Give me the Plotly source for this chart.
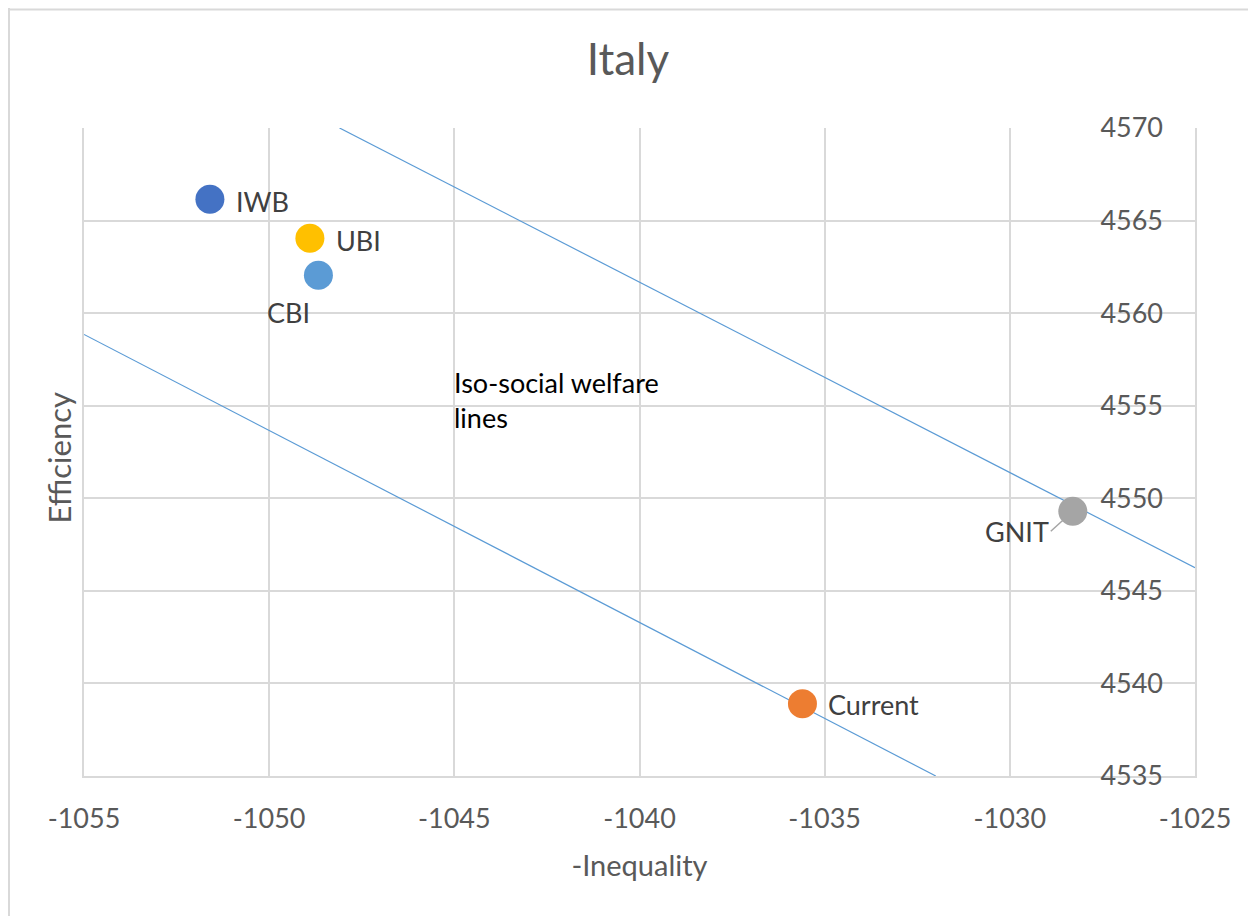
import plotly.graph_objects as go

# Policy points
policies = ["IWB", "UBI", "CBI", "GNIT", "Current"]
inequality_neg = [-1051.6, -1048.9, -1048.67, -1028.3, -1035.6]
efficiency = [4566.15, 4564.05, 4562.05, 4549.3, 4538.9]
colors = ["#4472C4", "#FFC000", "#5B9BD5", "#A5A5A5", "#ED7D31"]

# Iso-social welfare lines (two endpoints each)
iso_upper_x = [-1048.1, -1025.0]
iso_upper_y = [4570.0, 4546.25]
iso_lower_x = [-1055.0, -1032.0]
iso_lower_y = [4558.85, 4535.0]

x_ticks = [-1055, -1050, -1045, -1040, -1035, -1030, -1025]
y_ticks = [4535, 4540, 4545, 4550, 4555, 4560, 4565, 4570]

FONT = "Lato, 'Open Sans', sans-serif"
fig = go.Figure()

for lx, ly in [(iso_upper_x, iso_upper_y), (iso_lower_x, iso_lower_y)]:
    fig.add_trace(go.Scatter(x=lx, y=ly, mode="lines",
                             line=dict(color="#5B9BD5", width=1.2),
                             hoverinfo="skip", showlegend=False))

fig.add_trace(go.Scatter(x=inequality_neg, y=efficiency, mode="markers",
                         marker=dict(size=29, color=colors, line=dict(width=0)),
                         text=policies, showlegend=False))

# label placement: (xanchor, yanchor, xshift, yshift)
label_pos = {
    "IWB": ("left", "middle", 24, -2),
    "UBI": ("left", "middle", 24, -2),
    "CBI": ("center", "middle", -30, -37),
    "Current": ("left", "middle", 24, -1),
}
anns = []
for name, xv, yv in zip(policies, inequality_neg, efficiency):
    if name == "GNIT":
        anns.append(dict(x=xv, y=yv, xref="x", yref="y", text=name,
                         showarrow=True, arrowhead=0, arrowwidth=1.5,
                         arrowcolor="#A5A5A5", ax=-22, ay=20, standoff=13,
                         xanchor="right", yanchor="middle",
                         font=dict(family=FONT, size=27, color="#404040")))
        continue
    xa, ya, xs, ys = label_pos[name]
    anns.append(dict(x=xv, y=yv, xref="x", yref="y", text=name, showarrow=False,
                     xanchor=xa, yanchor=ya, xshift=xs, yshift=ys,
                     font=dict(family=FONT, size=27, color="#404040")))

anns.append(dict(x=-1045.05, y=4555.3, xref="x", yref="y",
                 text="Iso-social welfare<br>lines", showarrow=False,
                 xanchor="left", yanchor="middle", align="left",
                 font=dict(family=FONT, size=27, color="#000000")))

fig.update_layout(
    width=1240, height=908,
    margin=dict(l=76, r=53, t=120, b=140),
    paper_bgcolor="white", plot_bgcolor="white",
    title=dict(text="Italy", x=0.5, xanchor="center", y=0.943, yanchor="middle",
               font=dict(family=FONT, size=44, color="#595959")),
    annotations=anns,
    shapes=[
        dict(type="line", xref="paper", yref="paper", x0=-0.0675, x1=-0.0675,
             y0=-0.3, y1=1.185, line=dict(color="#D9D9D9", width=2)),
        dict(type="line", xref="paper", yref="paper", x0=-0.0675, x1=1.06,
             y0=1.183, y1=1.183, line=dict(color="#D9D9D9", width=2)),
    ],
)
fig.update_xaxes(range=[-1055, -1025], tickvals=x_ticks,
                 ticktext=[str(v) for v in x_ticks],
                 showgrid=True, gridcolor="#D9D9D9", gridwidth=2,
                 zeroline=False, showline=True, linecolor="#D9D9D9", linewidth=2,
                 ticks="", ticklabelstandoff=18, automargin=False,
                 tickfont=dict(family=FONT, size=27, color="#595959"),
                 title=dict(text="-Inequality", standoff=22,
                            font=dict(family=FONT, size=29, color="#595959")))
fig.update_yaxes(range=[4535, 4570], tickvals=y_ticks, side="right",
                 showgrid=True, gridcolor="#D9D9D9", gridwidth=2,
                 zeroline=False, showline=True, linecolor="#D9D9D9", linewidth=2,
                 mirror=True, ticks="", automargin=False,
                 ticklabelstandoff=-102,
                 tickfont=dict(family=FONT, size=27, color="#595959"))

fig.add_annotation(x=-0.0225, y=0.49, xref="paper", yref="paper", text="Efficiency",
                   textangle=-90, showarrow=False, xanchor="center", yanchor="middle",
                   font=dict(family=FONT, size=31, color="#595959"))

fig.write_html("out.html")
